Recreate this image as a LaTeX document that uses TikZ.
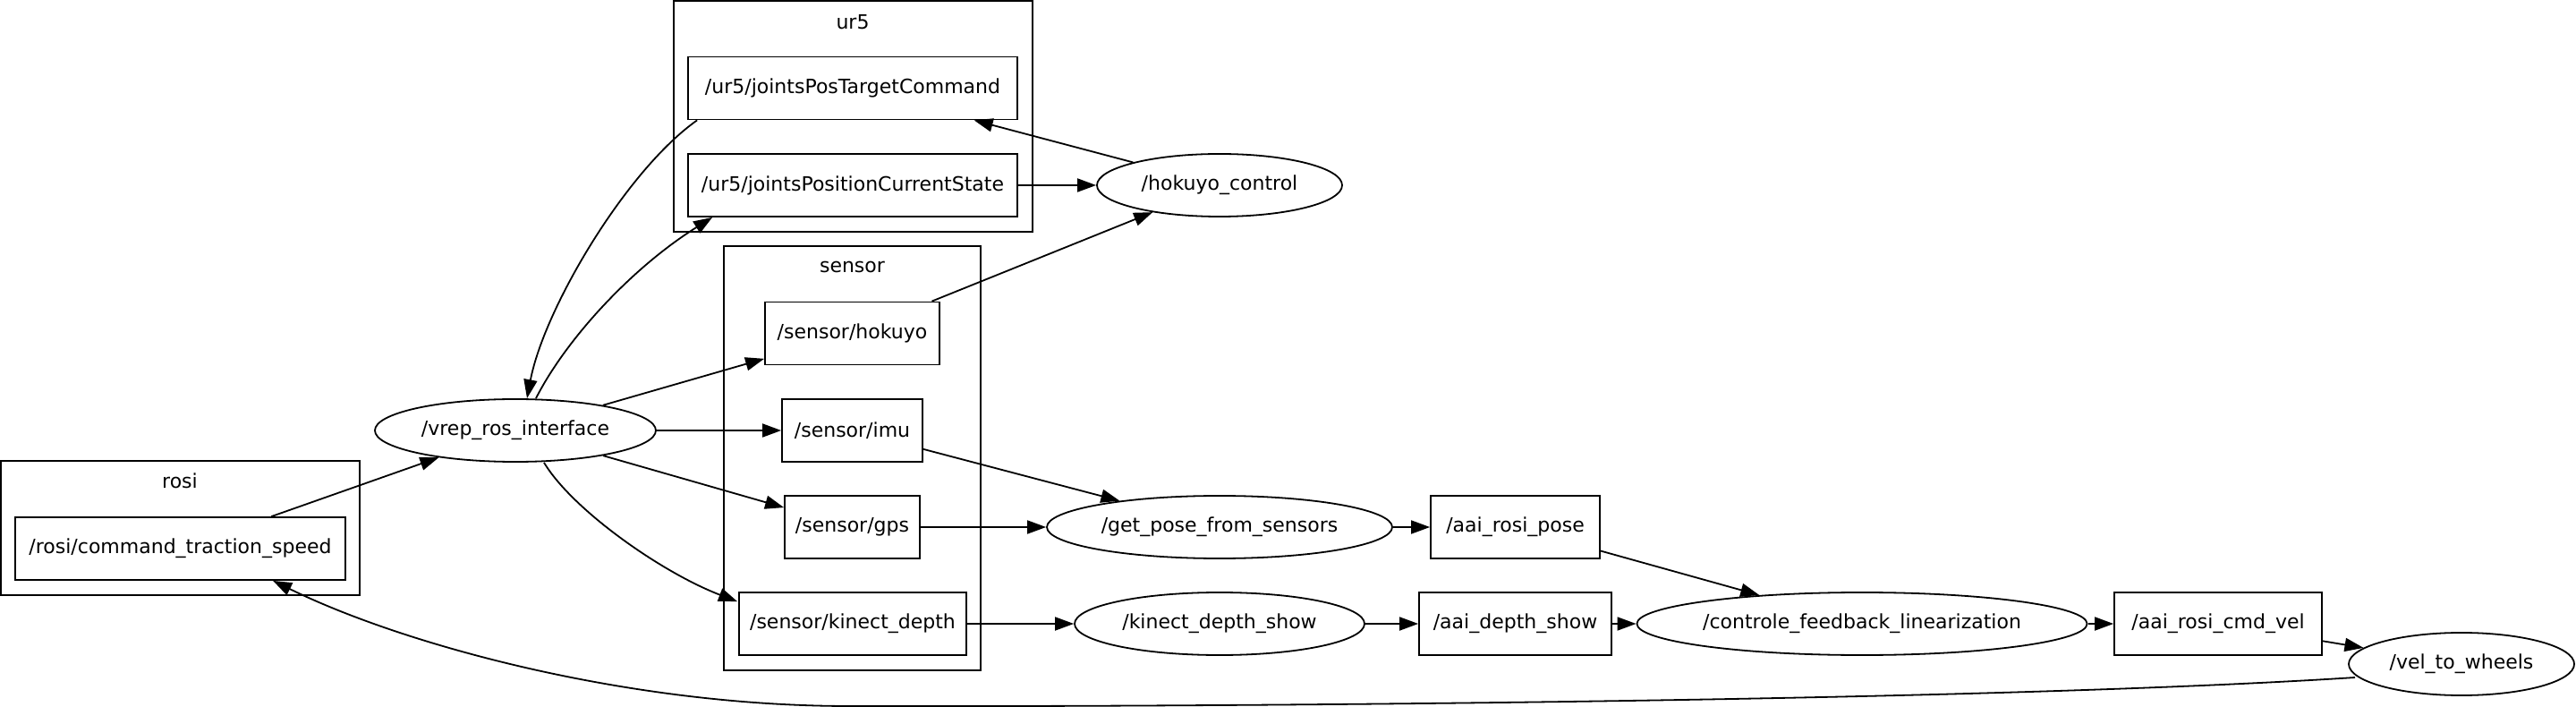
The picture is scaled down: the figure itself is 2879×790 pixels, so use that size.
\documentclass[tikz,border=0pt]{standalone}
\usepackage{fontspec}
\setmainfont{DejaVu Sans}
\usetikzlibrary{arrows.meta,shapes.geometric}
\begin{document}
\begin{tikzpicture}[x=0.5pt,y=-0.5pt,
  every node/.style={font=\fontsize{11}{13}\selectfont, inner sep=0pt},
  topic/.style={draw, rectangle, line width=0.9pt, minimum height=35pt},
  nodeell/.style={draw, ellipse, line width=0.9pt, minimum height=35pt},
  cluster/.style={draw, line width=0.9pt},
  arr/.style={-{Triangle[length=10.5pt,width=7.5pt]}, line width=0.9pt}]
\useasboundingbox (0,0) rectangle (2879,790);

% clusters
\draw[cluster] (753,1) rectangle (1154,259);
\node (ur5lab) at (953,25) {ur5};
\draw[cluster] (809,275) rectangle (1096,749);
\node (sensorlab) at (952.5,298) {sensor};
\draw[cluster] (1,515) rectangle (402,665);
\node (rosilab) at (201,537) {rosi};

% topics
\node[topic, minimum width=184pt] (jptc) at (953,98.5) {/ur5/jointsPosTargetCommand};
\node[topic, minimum width=184pt] (jpcs) at (953,207) {/ur5/jointsPositionCurrentState};
\node[topic, minimum width=97.5pt] (shok) at (952.5,372.5) {/sensor/hokuyo};
\node[topic, minimum width=78.5pt] (simu) at (952.5,481) {/sensor/imu};
\node[topic, minimum width=75.5pt] (sgps) at (952.5,589) {/sensor/gps};
\node[topic, minimum width=127pt] (skin) at (953,697) {/sensor/kinect\_depth};
\node[topic, minimum width=184.5pt] (rcts) at (201.5,613) {/rosi/command\_traction\_speed};
\node[topic, minimum width=94.5pt] (arp) at (1693.5,589) {/aai\_rosi\_pose};
\node[topic, minimum width=107.5pt] (ads) at (1693.5,697) {/aai\_depth\_show};
\node[topic, minimum width=116pt] (arcv) at (2479,697) {/aai\_rosi\_cmd\_vel};

% ROS nodes
\node[nodeell, minimum width=157pt] (vrep) at (576,481) {/vrep\_ros\_interface};
\node[nodeell, minimum width=137pt] (hok) at (1363,207) {/hokuyo\_control};
\node[nodeell, minimum width=193pt] (gps) at (1363,589) {/get\_pose\_from\_sensors};
\node[nodeell, minimum width=162pt] (kds) at (1363,697) {/kinect\_depth\_show};
\node[nodeell, minimum width=251pt] (cfl) at (2081,697) {/controle\_feedback\_linearization};
\node[nodeell, minimum width=126pt] (vtw) at (2751,742) {/vel\_to\_wheels};

% straight edges
\draw[arr] (rcts) -- (vrep);
\draw[arr] (vrep) -- (shok);
\draw[arr] (vrep) -- (simu);
\draw[arr] (vrep) -- (sgps);
\draw[arr] (shok) -- (hok);
\draw[arr] (hok) -- (jptc);
\draw[arr] (jpcs) -- (hok);
\draw[arr] (simu) -- (gps);
\draw[arr] (sgps) -- (gps);
\draw[arr] (skin) -- (kds);
\draw[arr] (gps) -- (arp);
\draw[arr] (arp) -- (cfl);
\draw[arr] (kds) -- (ads);
\draw[arr] (ads) -- (cfl);
\draw[arr] (cfl) -- (arcv);
\draw[arr] (arcv) -- (vtw);

% curved edges
\draw[arr] ([shift={(11,0)}]jptc.south west) .. controls (700,190) and (608,345) .. ([shift={(13,0)}]vrep.north);
\draw[arr] ([shift={(23,0)}]vrep.north) .. controls (632,380) and (705,300) .. ([shift={(28,0)}]jpcs.south west);
\draw[arr] ([shift={(32,0)}]vrep.south) .. controls (640,570) and (740,640) .. ([shift={(-1,11)}]skin.north west);
\draw[arr] ([shift={(-119,15)}]vtw.center) .. controls (2200,785) and (1300,790) .. (950,789)
   .. controls (700,789) and (450,720) .. ([shift={(289,0)}]rcts.south west);
\end{tikzpicture}
\end{document}
